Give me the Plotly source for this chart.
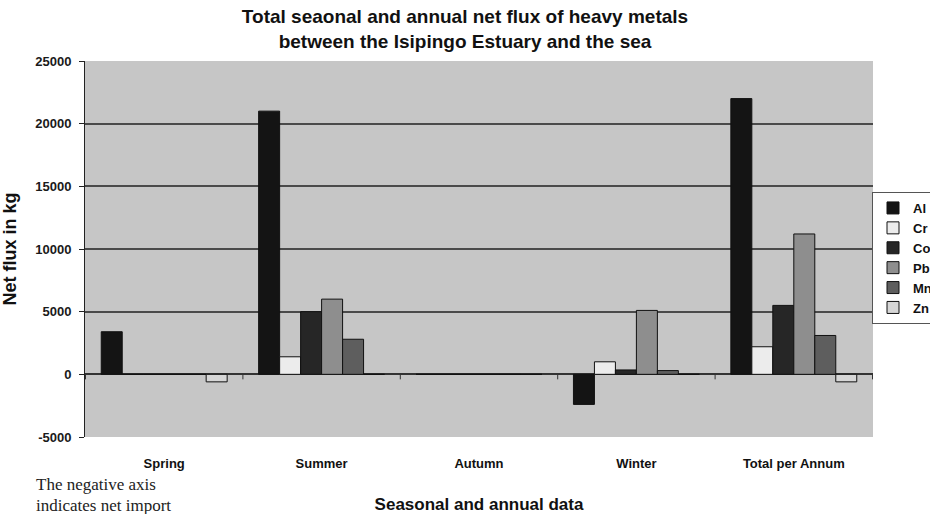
import plotly.graph_objects as go

categories = ["Spring", "Summer", "Autumn", "Winter", "Total per Annum"]
metals = ["Al", "Cr", "Co", "Pb", "Mn", "Zn"]
al = [3400, 21000, 0, -2400, 22000]
cr = [0, 1400, 0, 1000, 2200]
co = [0, 5000, 0, 350, 5500]
pb = [0, 6000, 0, 5100, 11200]
mn = [0, 2800, 0, 300, 3100]
zn = [-600, 0, 0, 0, -600]
series = [al, cr, co, pb, mn, zn]
colors = ["#141414", "#ececec", "#262626", "#8e8e8e", "#5e5e5e", "#d6d6d6"]
y_tick_vals = [-5000, 0, 5000, 10000, 15000, 20000, 25000]
y_tick_text = ["-5000", "0", "5000", "10000", "15000", "20000", "25000"]

FONT = "Liberation Sans, Arial, sans-serif"

fig = go.Figure()
for name, vals, col in zip(metals, series, colors):
    fig.add_trace(go.Bar(
        x=categories, y=vals, name=name,
        marker=dict(color=col, line=dict(color="#111111", width=1)),
    ))

W, H = 930, 514
L, R, T, B = 85, 57, 61, 77
pw = W - L - R
ph = H - T - B

fig.update_layout(
    width=W, height=H,
    margin=dict(l=L, r=R, t=T, b=B, autoexpand=False),
    paper_bgcolor="white",
    plot_bgcolor="#c6c6c6",
    barmode="group", bargap=0.2, bargroupgap=0,
    font=dict(family=FONT, color="#1a1a1a"),
    title=dict(
        text="Total seaonal and annual net flux of heavy metals<br>between the Isipingo Estuary and the sea",
        x=0.5, xanchor="center", xref="container",
        y=1 - 23 / H, yanchor="top", yref="container",
        font=dict(family=FONT, size=19, weight="bold", color="#111111"),
    ),
    legend=dict(
        x=1 + (872 - (W - R)) / pw, xanchor="left",
        y=1 - (192 - T) / ph, yanchor="top",
        bgcolor="white", bordercolor="#555555", borderwidth=1,
        font=dict(family=FONT, size=13, weight="bold", color="#111111"),
        tracegroupgap=0, itemwidth=30,
    ),
    xaxis=dict(
        type="category",
        showgrid=False, zeroline=False, showline=False,
        ticks="", ticklabelstandoff=17,
        tickfont=dict(family=FONT, size=13, weight="bold", color="#111111"),
        title=dict(text="Seasonal and annual data", standoff=28,
                   font=dict(family=FONT, size=17, weight="bold", color="#111111")),
        automargin=False,
    ),
    yaxis=dict(
        range=[-5000, 25000],
        tickvals=y_tick_vals, ticktext=y_tick_text,
        showgrid=True, gridcolor="#4a4a4a", gridwidth=1.5,
        zeroline=True, zerolinecolor="#333333", zerolinewidth=1.5,
        showline=True, linecolor="#222222", linewidth=1,
        ticks="outside", ticklen=5, tickcolor="#222222", ticklabelstandoff=5,
        tickfont=dict(family=FONT, size=13, weight="bold", color="#1a1a1a"),
        title=dict(text="Net flux in kg", standoff=22,
                   font=dict(family=FONT, size=18, weight="bold", color="#111111")),
        automargin=False,
    ),
)

# category boundary tick marks on the zero line
for i in range(len(categories) + 1):
    fig.add_shape(type="line", xref="x", yref="y",
                  x0=i - 0.5, x1=i - 0.5, y0=0, y1=-400,
                  line=dict(color="#333333", width=1))

# note text
for txt, ypx in [("The negative axis", 484), ("indicates net import", 505)]:
    fig.add_annotation(
        text=txt, xref="paper", yref="paper",
        x=(34 - L) / pw, y=(H - B - ypx) / ph,
        xanchor="left", yanchor="middle", showarrow=False, align="left",
        font=dict(family="Liberation Serif, Times New Roman, serif", size=17, color="#222222"),
    )

fig.write_html("out.html", config={"displayModeBar": False},
               post_script="document.body.style.margin='0';")
